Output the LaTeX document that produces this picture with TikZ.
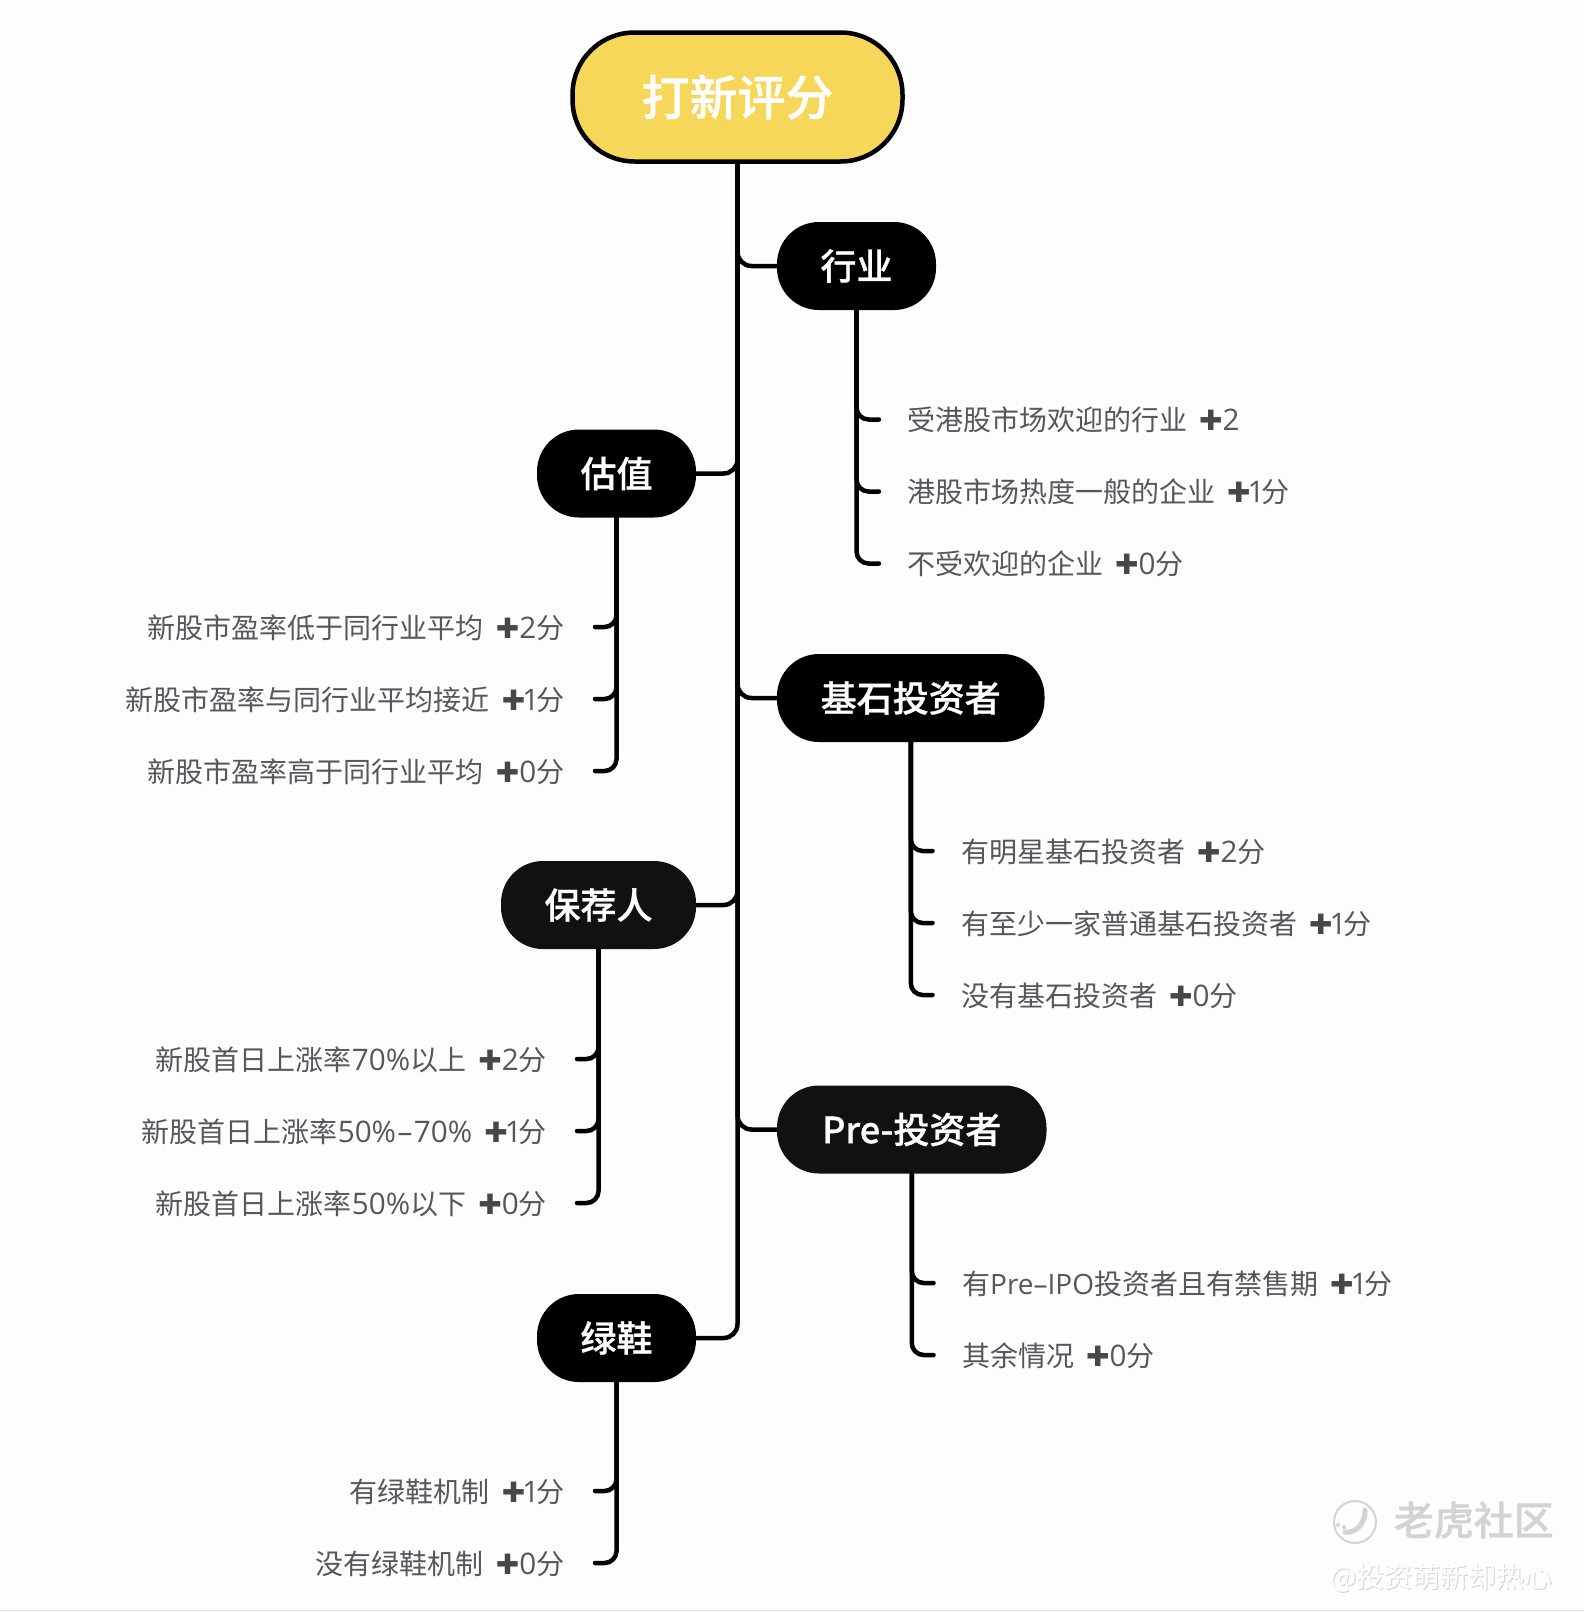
\documentclass[tikz,border=0pt]{standalone}
\usepackage{fontspec}
\setmainfont{Noto Sans CJK SC}[BoldFont={Noto Sans CJK SC Medium},BoldFeatures={FakeBold=0.8}]
\newfontfamily\latfont{Open Sans}
\newfontfamily\numfont{Open Sans}[Scale=1.06]
\newfontfamily\plusfont{DejaVu Sans}
\definecolor{bgcolor}{HTML}{FDFDFD}
\definecolor{rootfill}{HTML}{F6D75A}
\definecolor{leaftext}{HTML}{54585C}
\definecolor{plustext}{HTML}{45484B}
\definecolor{softblack}{HTML}{111111}
\definecolor{markgray}{HTML}{D2D3D5}
\newcommand{\jia}{\hspace{12pt}{\color{plustext}\plusfont\fontsize{28}{30}\selectfont ✚}}
\newcommand{\lat}[1]{{\latfont #1}}
\newcommand{\num}[1]{{\numfont #1}}
\newcommand{\yi}{{\numfont\kern-3pt 1\kern-3pt}}
\tikzset{
  rootbox/.style={draw=black, line width=4.5pt, fill=rootfill, rounded corners=62pt, text=white,
    minimum width=330pt, minimum height=129pt, font=\fontsize{48}{50}\selectfont\bfseries},
  branch/.style={fill=black, rounded corners=42pt, text=white, minimum height=88pt, inner sep=0pt,
    font=\fontsize{36}{38}\selectfont\bfseries},
  leaf/.style={text=leaftext, inner sep=0pt, yshift=-0.5pt, font=\fontsize{28}{30}\selectfont},
  link/.style={draw=black, line width=4.5pt, rounded corners=14pt},
  hook/.style={draw=black, line width=4.5pt, rounded corners=12pt, line cap=round},
  markbig/.style={text=markgray, inner sep=0pt, font=\fontsize{40}{42}\selectfont\bfseries},
  marksmall/.style={inner sep=0pt, font=\fontsize{28}{30}\selectfont},
}
\begin{document}
\begin{tikzpicture}[x=1pt, y=-1pt]
        % 背景
        \useasboundingbox (0, 0) rectangle (1584, 1612);
        \fill [bgcolor] (0, 0) rectangle (1584, 1612);
        \draw [gray!25, line width=1pt] (0, 1610.5) -- (1584, 1610.5);

        % 标注根节点和分支
        \node [rootbox] (root) at (737.5, 97) {打新评分};
        \node [branch, minimum width=159pt] (hangye) at (856.5, 266) {行业};
        \node [branch, minimum width=159pt] (guzhi) at (616.5, 473.5) {估值};
        \node [branch, minimum width=267.5pt] (jishi) at (910.75, 698) {基石投资者};
        \node [branch, minimum width=195pt, fill=softblack] (baojian) at (598.5, 905) {保荐人};
        \node [branch, minimum width=269.5pt, fill=softblack] (pre) at (911.75, 1129.5) {Pre-投资者};
        \node [branch, minimum width=159pt] (lvxie) at (616.5, 1338) {绿鞋};

        % 绘制主干
        \draw [link] (root.south) |- (hangye.west);
        \draw [link] (root.south) |- (guzhi.east);
        \draw [link] (root.south) |- (jishi.west);
        \draw [link] (root.south) |- (baojian.east);
        \draw [link] (root.south) |- (pre.west);
        \draw [link] (root.south) |- (lvxie.east);

        % 行业
        \node [leaf, anchor=west] (A_1) at (907, 419.5) {受港股市场欢迎的行业\jia\num{2}};
        \node [leaf, anchor=west] (A_2) at (907, 491.5) {港股市场热度一般的企业\jia\yi 分};
        \node [leaf, anchor=west] (A_3) at (907, 563.5) {不受欢迎的企业\jia\num{0}分};
        \coordinate (a_1) at (879, 419.5);
        \coordinate (a_2) at (879, 491.5);
        \coordinate (a_3) at (879, 563.5);
        \draw [hook] (hangye.south) |- (a_1);
        \draw [hook] (hangye.south) |- (a_2);
        \draw [hook] (hangye.south) |- (a_3);

        % 估值
        \node [leaf, anchor=east] (B_1) at (564.5, 627) {新股市盈率低于同行业平均\jia\num{2}分};
        \node [leaf, anchor=east] (B_2) at (564.5, 699) {新股市盈率与同行业平均接近\jia\yi 分};
        \node [leaf, anchor=east] (B_3) at (564.5, 771) {新股市盈率高于同行业平均\jia\num{0}分};
        \coordinate (b_1) at (595, 627);
        \coordinate (b_2) at (595, 699);
        \coordinate (b_3) at (595, 771);
        \draw [hook] (guzhi.south) |- (b_1);
        \draw [hook] (guzhi.south) |- (b_2);
        \draw [hook] (guzhi.south) |- (b_3);

        % 基石投资者
        \node [leaf, anchor=west] (C_1) at (961, 851) {有明星基石投资者\jia\num{2}分};
        \node [leaf, anchor=west] (C_2) at (961, 923) {有至少一家普通基石投资者\jia\yi 分};
        \node [leaf, anchor=west] (C_3) at (961, 995) {没有基石投资者\jia\num{0}分};
        \coordinate (c_1) at (932.5, 851);
        \coordinate (c_2) at (932.5, 923);
        \coordinate (c_3) at (932.5, 995);
        \draw [hook] (jishi.south) |- (c_1);
        \draw [hook] (jishi.south) |- (c_2);
        \draw [hook] (jishi.south) |- (c_3);

        % 保荐人
        \node [leaf, anchor=east] (D_1) at (547, 1059) {新股首日上涨率\num{70\%}以上\jia\num{2}分};
        \node [leaf, anchor=east] (D_2) at (547, 1131) {新股首日上涨率\num{50\%\kern1.5pt–\kern1.5pt70\%}\jia\yi 分};
        \node [leaf, anchor=east] (D_3) at (547, 1203) {新股首日上涨率\num{50\%}以下\jia\num{0}分};
        \coordinate (d_1) at (577, 1059);
        \coordinate (d_2) at (577, 1131);
        \coordinate (d_3) at (577, 1203);
        \draw [hook] (baojian.south) |- (d_1);
        \draw [hook] (baojian.south) |- (d_2);
        \draw [hook] (baojian.south) |- (d_3);

        % Pre-投资者
        \node [leaf, anchor=west] (E_1) at (962, 1283) {有\lat{Pre–IPO}投资者且有禁售期\jia\yi 分};
        \node [leaf, anchor=west] (E_2) at (962, 1355) {其余情况\jia\num{0}分};
        \coordinate (e_1) at (933.5, 1283);
        \coordinate (e_2) at (933.5, 1355);
        \draw [hook] (pre.south) |- (e_1);
        \draw [hook] (pre.south) |- (e_2);

        % 绿鞋
        \node [leaf, anchor=east] (F_1) at (564.5, 1491) {有绿鞋机制\jia\yi 分};
        \node [leaf, anchor=east] (F_2) at (564.5, 1563) {没有绿鞋机制\jia\num{0}分};
        \coordinate (f_1) at (595, 1491);
        \coordinate (f_2) at (595, 1563);
        \draw [hook] (lvxie.south) |- (f_1);
        \draw [hook] (lvxie.south) |- (f_2);

        % 水印
        \draw [markgray, line width=2pt] (1355, 1522) circle (21);
        \draw [markgray, line width=5pt, line cap=round] (1345, 1532) .. controls (1356, 1534) and (1366, 1522) .. (1365, 1510);
        \fill [markgray] (1338, 1525) circle (2) (1344, 1527) circle (2);
        \node [markbig, anchor=east] (mark) at (1554, 1520) {老虎社区};
        \node [marksmall, text=markgray, anchor=east] (user_s) at (1554, 1579) {@投资萌新却热心};
        \node [marksmall, text=white, anchor=east] (user) at (1553, 1578) {@投资萌新却热心};
        \end{tikzpicture}
\end{document}
